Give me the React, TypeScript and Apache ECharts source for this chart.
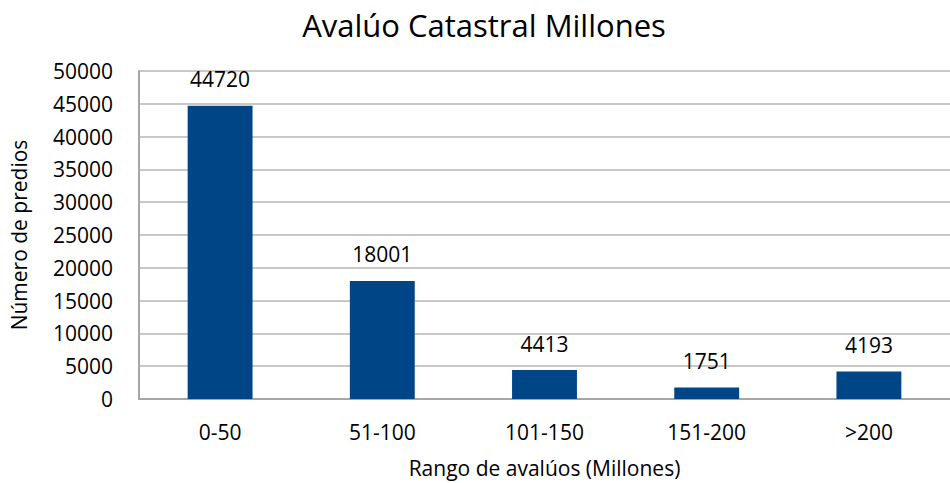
import React, { useEffect, useRef } from "react";
import * as echarts from "echarts";

const categories = ["0-50", "51-100", "101-150", "151-200", ">200"];
const predios = [44720, 18001, 4413, 1751, 4193];

const FONT = "'Open Sans', Lato, sans-serif";

export default function App() {
  const ref = useRef<HTMLDivElement>(null);

  useEffect(() => {
    if (!ref.current) return;
    const chart = echarts.init(ref.current, null, { renderer: "svg" });
    chart.setOption({
      animation: false,
      backgroundColor: "#ffffff",
      textStyle: { fontFamily: FONT, color: "#000000" },
      title: {
        text: "Avalúo Catastral Millones",
        left: 479,
        textAlign: "center",
        top: 4,
        textStyle: { fontFamily: FONT, fontSize: 31, fontWeight: "normal", color: "#000000" },
      },
      grid: { left: 134, right: 0, top: 71, bottom: 70 },
      xAxis: {
        type: "category",
        data: categories,
        name: "Rango de avalúos (Millones)",
        nameLocation: "middle",
        nameGap: 58,
        nameTextStyle: { fontFamily: FONT, fontSize: 21, color: "#000000" },
        axisLine: { lineStyle: { color: "#A6A6A6", width: 2 } },
        axisTick: { show: false },
        axisLabel: { fontFamily: FONT, fontSize: 21, color: "#000000", margin: 22 },
      },
      yAxis: {
        type: "value",
        min: 0,
        max: 50000,
        interval: 5000,
        name: "Número de predios",
        nameLocation: "middle",
        nameGap: 110,
        nameTextStyle: { fontFamily: FONT, fontSize: 21, color: "#000000" },
        axisLine: { show: true, lineStyle: { color: "#A6A6A6", width: 2 } },
        axisTick: { show: false },
        axisLabel: {
          fontFamily: FONT,
          fontSize: 21,
          color: "#000000",
          margin: 26,
          formatter: (v: number) => String(v),
        },
        splitLine: { lineStyle: { color: "#C8C8C8", width: 2 } },
      },
      series: [
        {
          type: "bar",
          data: predios,
          barWidth: "40%",
          itemStyle: { color: "#004586" },
          label: {
            show: true,
            position: "top",
            distance: 16,
            fontFamily: FONT,
            fontSize: 21,
            color: "#000000",
          },
        },
      ],
    });
    return () => chart.dispose();
  }, []);

  return (
    <div
      ref={ref}
      style={{ position: "fixed", left: 0, top: 0, width: 950, height: 483 }}
    />
  );
}
